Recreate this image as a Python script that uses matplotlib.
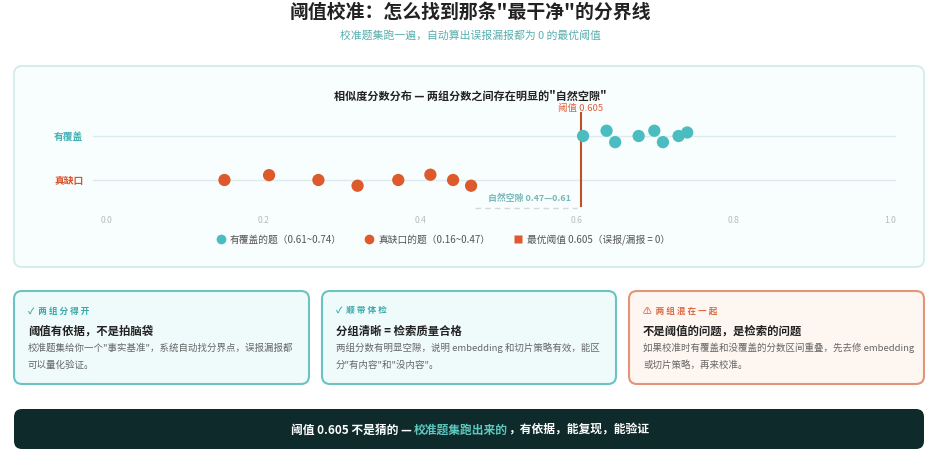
import matplotlib
matplotlib.use('Agg')
import matplotlib.pyplot as plt
from matplotlib.patches import FancyBboxPatch
from matplotlib.lines import Line2D
from matplotlib.transforms import Affine2D

plt.rcParams['font.family'] = ['Noto Sans CJK SC', 'DejaVu Sans']

# ---------------- data ----------------
covered_scores = [0.608, 0.638, 0.649, 0.679, 0.699, 0.710, 0.730, 0.741]
covered_jitter = [0.0, 0.12, -0.14, 0.0, 0.12, -0.14, 0.0, 0.08]
gap_scores = [0.150, 0.207, 0.270, 0.320, 0.372, 0.413, 0.442, 0.465]
gap_jitter = [0.0, 0.11, 0.0, -0.13, 0.0, 0.12, 0.0, -0.13]
threshold = 0.605
gap_low, gap_high = 0.47, 0.61
row_labels = ['有覆盖', '真缺口']
xticks = [0.0, 0.2, 0.4, 0.6, 0.8, 1.0]
legend_labels = ['有覆盖的题（0.61~0.74）', '真缺口的题（0.16~0.47）', '最优阈值 0.605（误报/漏报 = 0）']

title = '阈值校准：怎么找到那条"最干净"的分界线'
subtitle = '校准题集跑一遍，自动算出误报漏报都为 0 的最优阈值'
chart_title = '相似度分数分布 — 两组分数之间存在明显的"自然空隙"'
cards = [
    ('✓  两 组 分 得 开', '阈值有依据，不是拍脑袋',
     ['校准题集给你一个"事实基准"，系统自动找分界点，误报漏报都', '可以量化验证。'], 'ok'),
    ('✓  顺 带 体 检', '分组清晰 = 检索质量合格',
     ['两组分数有明显空隙，说明 embedding 和切片策略有效，能区', '分"有内容"和"没内容"。'], 'ok'),
    ('⚠  两 组 混 在 一 起', '不是阈值的问题，是检索的问题',
     ['如果校准时有覆盖和没覆盖的分数区间重叠，先去修 embedding', '或切片策略，再来校准。'], 'warn'),
]
banner_parts = ['阈值 0.605 不是猜的 — ', '校准题集跑出来的', '，有依据，能复现，能验证']

# ---------------- style ----------------
TEAL = '#4bbcc0'
ORANGE = '#dc5a2c'
W, H = 940, 456
fig = plt.figure(figsize=(W / 100, H / 100), dpi=100)
fig.patch.set_facecolor('white')
px = Affine2D().scale(1 / W, -1 / H).translate(0, 1) + fig.transFigure


def rbox(x0, y0, x1, y1, fc, ec, lw, r, z=0):
    p = FancyBboxPatch((x0, y0), x1 - x0, y1 - y0,
                       boxstyle=f'round,pad=0,rounding_size={r}',
                       transform=px, fc=fc, ec=ec, lw=lw, zorder=z)
    fig.patches.append(p)


# titles
fig.text(470, 12, title, transform=px, ha='center', va='center',
         fontsize=13.6, fontweight='bold', color='#222222')
fig.text(470, 35, subtitle, transform=px, ha='center', va='center',
         fontsize=7.8, color='#5aaeae')

# chart panel
rbox(14, 67, 924, 268, '#f8fdfd', '#cfeaea', 1.2, 8, z=0)
fig.text(470, 96, chart_title, transform=px, ha='center', va='center',
         fontsize=8, fontweight='bold', color='#222222', zorder=1)

# axes: x 0->1 maps to pixel 107->890
x0p, scale = 107, 783
xmin, xmax = -0.03, 1.03
top_p, bot_p = 100, 212
row_cov_p, row_gap_p = 137, 181
unit = row_gap_p - row_cov_p
ylo = -(bot_p - row_gap_p) / unit
yhi = 1 + (row_cov_p - top_p) / unit
ax = fig.add_axes([(x0p + xmin * scale) / W, 1 - bot_p / H,
                   (xmax - xmin) * scale / W, (bot_p - top_p) / H])
ax.set_zorder(2)
ax.set_xlim(xmin, xmax)
ax.set_ylim(ylo, yhi)
ax.patch.set_alpha(0)
for s in ax.spines.values():
    s.set_visible(False)
ax.set_yticks([])
ax.set_xticks(xticks)
ax.set_xticklabels([f'{t:.1f}' for t in xticks])
ax.tick_params(axis='x', length=0, pad=3, labelsize=6.2, labelcolor='#bbbbbb')

# row lines and labels
for yv in (1, 0):
    ax.plot([-0.018, 1.006], [yv, yv], color='#dcecee', lw=1, zorder=1)
ax.text(-0.03, 1, row_labels[0], ha='right', va='center', fontsize=7,
        fontweight='bold', color='#3fb0b3', clip_on=False)
ax.text(-0.03, 0, row_labels[1], ha='right', va='center', fontsize=7,
        fontweight='bold', color='#d9532a', clip_on=False)

# points
ax.scatter(covered_scores, [1 + j for j in covered_jitter], s=78, c=TEAL,
           edgecolors='none', zorder=4)
ax.scatter(gap_scores, [0 + j for j in gap_jitter], s=78, c=ORANGE,
           edgecolors='none', zorder=4)

# threshold line
ty_top = 1 + (row_cov_p - 114) / unit
ty_bot = -(207 - row_gap_p) / unit
ax.plot([threshold, threshold], [ty_bot, ty_top], color='#bf4f2a', lw=1.5,
        zorder=3, clip_on=False)
ax.text(threshold, 1 + (row_cov_p - 108) / unit, f'阈值 {threshold}', ha='center',
        va='center', fontsize=6.8, color='#e0603a', clip_on=False, zorder=5)

# natural gap
gy = -(209 - row_gap_p) / unit
ax.plot([gap_low, 0.60], [gy, gy], color='#cfdadc', lw=1, ls=(0, (4, 3)),
        clip_on=False, zorder=2)
ax.text(0.593, -(198 - row_gap_p) / unit, f'自然空隙 {gap_low}—{gap_high}',
        ha='right', va='center', fontsize=6.4, fontweight='bold',
        color='#79b8bc', clip_on=False)

# legend
handles = [Line2D([], [], ls='none', marker='o', ms=7, mfc=TEAL, mec='none'),
           Line2D([], [], ls='none', marker='o', ms=7, mfc=ORANGE, mec='none'),
           Line2D([], [], ls='none', marker='s', ms=6, mfc=ORANGE, mec='none')]
leg = fig.legend(handles, legend_labels, loc='center',
                 bbox_to_anchor=(443 / W, 1 - 240 / H), ncol=3, frameon=False,
                 fontsize=7, labelcolor='#555555', columnspacing=2.4,
                 handletextpad=0.4, handlelength=1.0)
leg.set_zorder(3)

# cards
card_x = [(14, 309), (322, 616), (629, 924)]
for (cx0, cx1), (head, ttl, desc, kind) in zip(card_x, cards):
    if kind == 'ok':
        fc, ec, hc = '#effafa', '#6cc3c3', '#3aa9a9'
    else:
        fc, ec, hc = '#fdf6f1', '#e2957a', '#dd6a45'
    rbox(cx0, 292, cx1, 385, fc, ec, 1.5, 8)
    tx = cx0 + 14
    fig.text(tx, 311, head, transform=px, ha='left', va='center',
             fontsize=6.2, fontweight='bold', color=hc)
    fig.text(tx, 331, ttl, transform=px, ha='left', va='center',
             fontsize=8.2, fontweight='bold', color='#222222')
    for i, line in enumerate(desc):
        fig.text(tx, 348 + i * 17, line, transform=px, ha='left', va='center',
                 fontsize=6.8, color='#666666')

# banner
rbox(14, 410, 924, 450, '#0f2a2a', 'none', 0, 8)
cols = ['#ffffff', '#5cc8c0', '#ffffff']
texts = [fig.text(0, 430, t, transform=px, ha='left', va='center',
                  fontsize=8.5, fontweight='bold', color=c)
         for t, c in zip(banner_parts, cols)]
fig.canvas.draw()
r = fig.canvas.get_renderer()
widths = [t.get_window_extent(r).width for t in texts]
x = 470 - sum(widths) / 2
for t, w in zip(texts, widths):
    t.set_x(x)
    x += w

fig.savefig('out.png', dpi=100, facecolor='white')
